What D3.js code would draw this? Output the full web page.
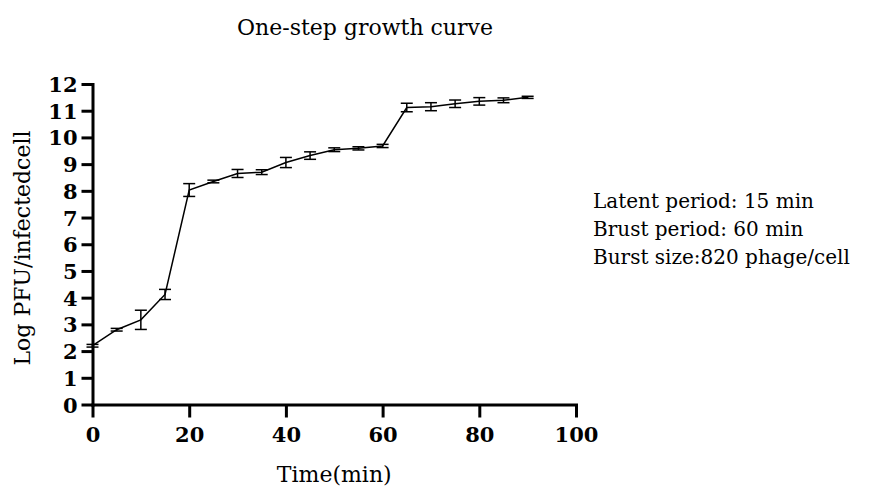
<!DOCTYPE html>
<html>
<head>
<meta charset="utf-8">
<script src="https://cdn.jsdelivr.net/npm/d3@7"></script>
<style>
  body { margin: 0; background: #fff; }
  svg { display: block; font-family: "DejaVu Serif", serif; }
</style>
</head>
<body>
<div class="chart"></div>
<script>
'use strict';

var times = [0, 5, 10, 15, 20, 25, 30, 35, 40, 45, 50, 55, 60, 65, 70, 75, 80, 85, 90];
var logPfu = [2.2, 2.8, 3.17, 4.12, 8.03, 8.35, 8.65, 8.7, 9.06, 9.32, 9.54, 9.59, 9.68, 11.12, 11.15, 11.26, 11.35, 11.39, 11.5];
var errors = [0.05, 0.05, 0.36, 0.19, 0.24, 0.05, 0.15, 0.09, 0.19, 0.14, 0.07, 0.06, 0.06, 0.16, 0.15, 0.14, 0.14, 0.09, 0.04];
var xTicks = [0, 20, 40, 60, 80, 100];
var yTicks = [0, 1, 2, 3, 4, 5, 6, 7, 8, 9, 10, 11, 12];
var notes = ['Latent period: 15 min', 'Brust period: 60 min', 'Burst size:820 phage/cell'];

(function () {
  var width = 887,
      height = 491;
  var left = 92.5, right = 576, top = 84, bottom = 404.5;

  var data = times.map(function (t, i) {
    return { t: t, v: logPfu[i], e: errors[i] };
  });

  var x = d3.scaleLinear().domain([0, 100]).range([left, right]);
  var y = d3.scaleLinear().domain([0, 12]).range([bottom, top]);

  var svg = d3.select('.chart')
    .append('svg')
      .attr('width', width)
      .attr('height', height);

  // title
  svg.append('text')
      .attr('x', 365)
      .attr('y', 35)
      .attr('text-anchor', 'middle')
      .style('font-size', '22px')
      .text('One-step growth curve');

  // axes
  var yAxis = svg.append('g')
      .attr('transform', 'translate(' + left + ',0)')
      .call(d3.axisLeft(y).tickValues(yTicks).tickSize(11).tickSizeOuter(0).tickPadding(4));
  var xAxis = svg.append('g')
      .attr('transform', 'translate(0,' + bottom + ')')
      .call(d3.axisBottom(x).tickValues(xTicks).tickSize(13).tickSizeOuter(0).tickPadding(10));

  [xAxis, yAxis].forEach(function (ax) {
    ax.select('.domain').attr('stroke', '#000').attr('stroke-width', 3).attr('stroke-linecap', 'square');
    ax.selectAll('.tick line').attr('stroke', '#000').attr('stroke-width', 3);
    ax.selectAll('.tick text')
        .attr('fill', '#000')
        .style('font-family', '"DejaVu Serif", serif')
        .style('font-weight', 'bold')
        .style('font-size', '21px');
  });
  yAxis.selectAll('.tick text').attr('dy', '0.36em');

  // axis titles
  svg.append('text')
      .attr('x', (left + right) / 2)
      .attr('y', 482)
      .attr('text-anchor', 'middle')
      .style('font-size', '22px')
      .text('Time(min)');
  svg.append('text')
      .attr('transform', 'translate(30,248) rotate(-90)')
      .attr('text-anchor', 'middle')
      .style('font-size', '22px')
      .text('Log PFU/infectedcell');

  // line
  var line = d3.line()
      .x(function (d) { return x(d.t); })
      .y(function (d) { return y(d.v); });
  svg.append('path')
      .datum(data)
      .attr('d', line)
      .attr('fill', 'none')
      .attr('stroke', '#000')
      .attr('stroke-width', 1.5);

  // error bars
  var cap = 6;
  var bars = svg.selectAll('.err')
      .data(data)
    .enter().append('g')
      .attr('class', 'err')
      .attr('stroke', '#000')
      .attr('stroke-width', 1.5);
  bars.append('line')
      .attr('x1', function (d) { return x(d.t); })
      .attr('x2', function (d) { return x(d.t); })
      .attr('y1', function (d) { return y(d.v - d.e); })
      .attr('y2', function (d) { return y(d.v + d.e); });
  bars.append('line')
      .attr('x1', function (d) { return x(d.t) - cap; })
      .attr('x2', function (d) { return x(d.t) + cap; })
      .attr('y1', function (d) { return y(d.v + d.e); })
      .attr('y2', function (d) { return y(d.v + d.e); });
  bars.append('line')
      .attr('x1', function (d) { return x(d.t) - cap; })
      .attr('x2', function (d) { return x(d.t) + cap; })
      .attr('y1', function (d) { return y(d.v - d.e); })
      .attr('y2', function (d) { return y(d.v - d.e); });

  // notes on the right
  svg.append('g')
      .selectAll('text')
      .data(notes)
    .enter().append('text')
      .attr('x', 593)
      .attr('y', function (d, i) { return 208 + i * 27.8; })
      .style('font-size', '20px')
      .text(function (d) { return d; });
})();
</script>
</body>
</html>
